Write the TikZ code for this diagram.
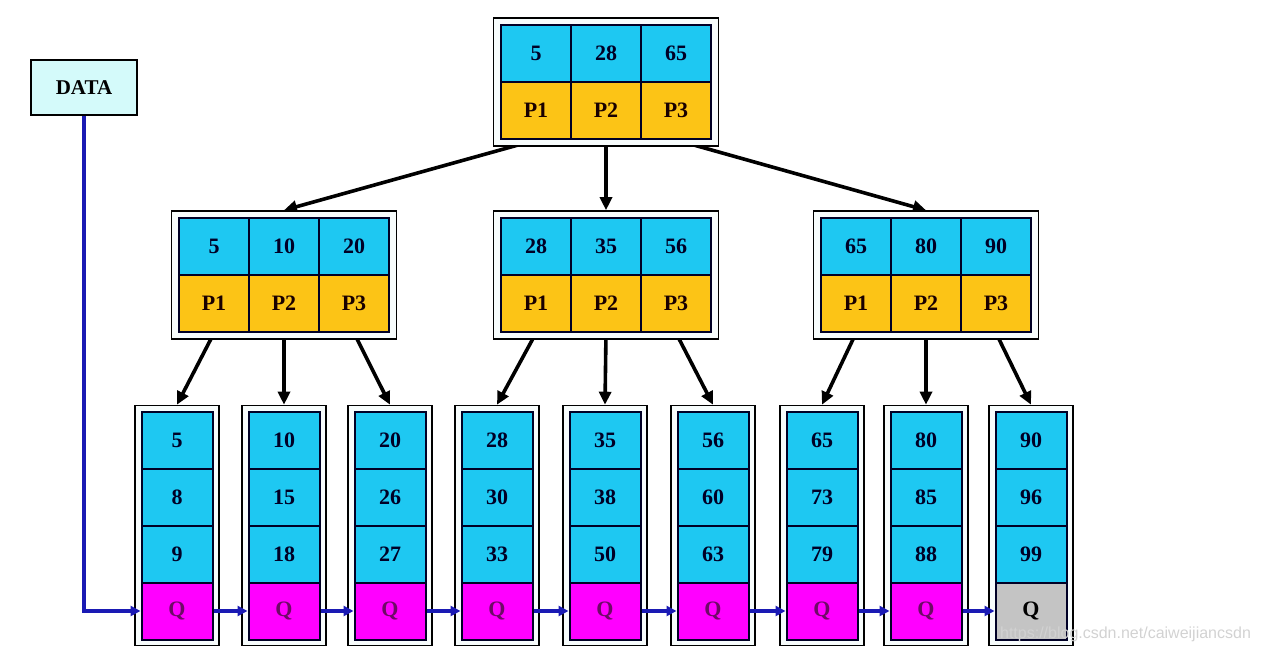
\documentclass[tikz,border=0pt]{standalone}
\usepackage{fontspec}
\setmainfont{Liberation Serif}
\setsansfont{Liberation Sans}
\usetikzlibrary{arrows.meta,backgrounds}
\definecolor{keyblue}{HTML}{1EC8F2}
\definecolor{ptryellow}{HTML}{FCC416}
\definecolor{qmagenta}{HTML}{FF00FF}
\definecolor{qgray}{HTML}{C4C4C4}
\definecolor{qtext}{HTML}{6E0A66}
\definecolor{datacyan}{HTML}{D4FAFA}
\definecolor{linkblue}{HTML}{1A1AB4}
\definecolor{framefill}{HTML}{F7FCFC}
\tikzset{
  cell/.style={draw=black!85!blue,line width=1pt,minimum width=35pt,minimum height=28.5pt,
    inner sep=0pt,font=\fontsize{11}{13}\selectfont\bfseries},
  key/.style={cell,fill=keyblue,text=black!85!blue},
  ptr/.style={cell,fill=ptryellow,text=black!90!red},
  frame/.style={draw,line width=0.8pt,fill=framefill,inner sep=0pt},
  down/.style={-{Triangle[length=6.5pt,width=6pt]},line width=1.8pt},
  link/.style={-{Triangle[length=5pt,width=5pt]},line width=1.6pt,draw=linkblue}
}
\begin{document}
\begin{tikzpicture}[x=0.5pt,y=-0.5pt]
\useasboundingbox (0,0) rectangle (1265,659);
\node[draw,line width=0.8pt,fill=datacyan,minimum width=53pt,minimum height=27.5pt,
  font=\fontsize{10.5}{12}\selectfont\bfseries] (data) at (84,87.5) {DATA};
\foreach \n/\x/\y/\a/\b/\c in {root/606/82/5/28/65, n1/284/275/5/10/20,
    n2/606/275/28/35/56, n3/926/275/65/80/90}{
  \node[frame,minimum width=112.5pt,minimum height=64pt] (\n) at (\x,\y) {};
  \node[key] (\n k1) at (\x-70,\y-28.5) {\a};
  \node[key] (\n k2) at (\x,\y-28.5) {\b};
  \node[key] (\n k3) at (\x+70,\y-28.5) {\c};
  \node[ptr] (\n p1) at (\x-70,\y+28.5) {P1};
  \node[ptr] (\n p2) at (\x,\y+28.5) {P2};
  \node[ptr] (\n p3) at (\x+70,\y+28.5) {P3};
}
\foreach \x/\a/\b/\c/\qf/\qt [count=\i] in {177/5/8/9/qmagenta/qtext,
    284/10/15/18/qmagenta/qtext, 390/20/26/27/qmagenta/qtext,
    497/28/30/33/qmagenta/qtext, 605/35/38/50/qmagenta/qtext,
    713/56/60/63/qmagenta/qtext, 822/65/73/79/qmagenta/qtext,
    926/80/85/88/qmagenta/qtext, 1031/90/96/99/qgray/black}{
  \node[frame,minimum width=42pt,minimum height=120pt] (leaf\i) at (\x,525.5) {};
  \node[key,minimum width=35.5pt] (leaf\i a) at (\x,440) {\a};
  \node[key,minimum width=35.5pt] (leaf\i b) at (\x,497) {\b};
  \node[key,minimum width=35.5pt] (leaf\i c) at (\x,554) {\c};
  \node[cell,minimum width=35.5pt,fill=\qf,text=\qt] (q\i) at (\x,611) {Q};
}
\begin{scope}[on background layer]
\draw[down] (rootp1.south) -- (n1.north);
\draw[down] (rootp2.south) -- (n2.north);
\draw[down] (rootp3.south) -- (n3.north);
\foreach \p/\l in {n1p1/1,n1p2/2,n1p3/3,n2p1/4,n2p2/5,n2p3/6,n3p1/7,n3p2/8,n3p3/9}
  \draw[down] (\p.south) -- (leaf\l.north);
\end{scope}
\draw[link] (data.south) |- (q1.west);
\foreach \i [count=\j from 2] in {1,...,8}
  \draw[link] (q\i.east) -- (q\j.west);
\node[anchor=east,text=gray!35,font=\sffamily\fontsize{8}{9}\selectfont] (mark) at (1258,634)
  {https://blog.csdn.net/caiweijiancsdn};
\end{tikzpicture}
\end{document}
